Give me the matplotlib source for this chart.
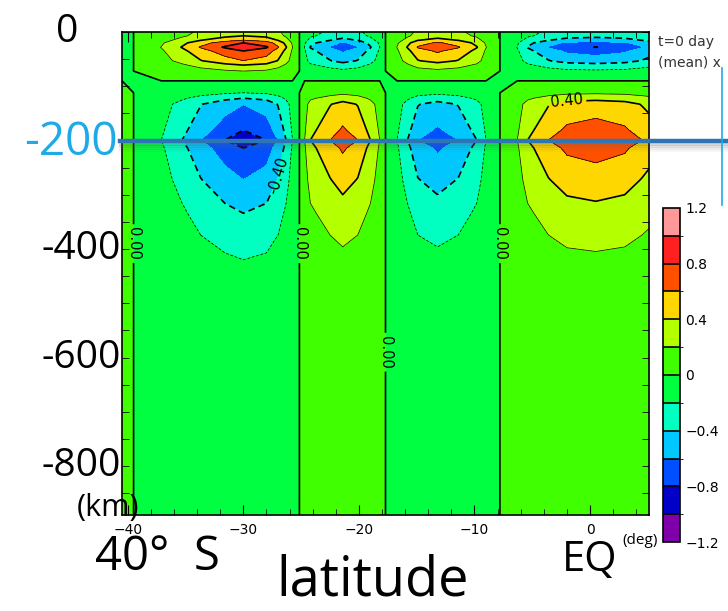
import numpy as np
import matplotlib
matplotlib.use('Agg')
import matplotlib.pyplot as plt
import matplotlib.transforms as mtransforms
from matplotlib.colors import ListedColormap, BoundaryNorm
from matplotlib.lines import Line2D
from matplotlib.ticker import MultipleLocator, FixedLocator

# latitude structure (value at 200 km depth)
lat = np.array([-40.5, -39.5, -37.1, -35.3, -33.7, -31.6, -30.0, -28.0, -27.0, -26.3,
                -25.75, -25.15, -24.7, -24.2, -22.5, -21.4, -20.1, -19.0, -18.2, -17.7,
                -16.7, -15.8, -14.9, -13.2, -11.4, -9.8, -9.0, -7.8, -6.3, -5.4,
                -3.6, -2.0, 0.5, 3.0, 4.5, 5.1])
lat_amp = np.array([0.04, 0.0, -0.2, -0.4, -0.6, -0.8, -0.92, -0.8, -0.6, -0.4,
                    -0.2, 0.0, 0.2, 0.4, 0.6, 0.72, 0.6, 0.4, 0.2, 0.0,
                    -0.2, -0.4, -0.6, -0.72, -0.6, -0.4, -0.2, 0.0, 0.2, 0.4,
                    0.6, 0.73, 0.78, 0.72, 0.6, 0.55])

# vertical structure (relative to the 200 km level)
depth = np.array([-890, -600, -420, -334, -273, -214, -199, -181, -133, -122,
                  -112, -90, -72, -61, -53, -35, -28, -20, -15, -7, 0])
depth_amp = np.array([0.01, 0.06, 0.217, 0.435, 0.65, 0.87, 1.0, 0.87, 0.65, 0.435,
                      0.217, 0.0, -0.217, -0.435, -0.65, -0.87, -1.03, -0.87, -0.65,
                      -0.435, -0.38])

field = np.outer(depth_amp, lat_amp)

levels = np.round(np.arange(-1.2, 1.21, 0.2), 1)
line_levels = [-0.8, -0.4, 0.0, 0.4, 0.8]
thin_levels = [-0.2, 0.2, 0.6]
colors = ['#7f00a8', '#0000c8', '#0050ff', '#00c8ff', '#00ffc0', '#00ff40',
          '#40ff00', '#b4ff00', '#ffd700', '#ff5000', '#ff2020', '#ff9999']
cbar_ticks = [-1.2, -0.8, -0.4, 0, 0.4, 0.8, 1.2]
cbar_labels = ['\u22121.2', '\u22120.8', '\u22120.4', '0', '0.4', '0.8', '1.2']
depth_ticks = [0, -200, -400, -600, -800]
lat_ticks = [-40, -30, -20, -10, 0]

cmap = ListedColormap(colors)
norm = BoundaryNorm(levels, cmap.N)

plt.rcParams['lines.dashed_pattern'] = [4, 2.5]
fig = plt.figure(figsize=(7.28, 6.11), dpi=100)
ax = fig.add_axes([122/728, 1-515/611, 527/728, 483/611])

cf = ax.contourf(lat, depth, field, levels=levels, cmap=cmap, norm=norm)
ax.contour(lat, depth, field, levels=thin_levels, colors='k', linewidths=0.5)
cs = ax.contour(lat, depth, field, levels=line_levels, colors='k', linewidths=1.2)
ax.clabel(cs, fmt='%.2f', fontsize=10.5, inline=True, inline_spacing=3,
          manual=[(-2.0, -125), (-27.3, -262), (-39.5, -390), (-25.15, -390),
                  (-17.7, -590), (-7.8, -390)])

ax.set_xlim(-40.5, 5.1)
ax.set_ylim(-890, 0)
ax.xaxis.set_major_locator(FixedLocator(lat_ticks))
ax.xaxis.set_minor_locator(MultipleLocator(2))
ax.tick_params(axis='x', which='both', direction='in', top=True, labelsize=10, pad=6)
ax.tick_params(axis='x', which='major', length=7)
ax.tick_params(axis='x', which='minor', length=4)
ax.set_yticks([])
ax.yaxis.set_minor_locator(MultipleLocator(50))
ax.tick_params(axis='y', which='minor', direction='in', left=True, right=True, length=5)
for s in ax.spines.values():
    s.set_linewidth(1.2)

# slide annotations
ytr = ax.get_yaxis_transform()
for d in depth_ticks:
    if d == 0:
        ax.text(-0.104, d, '0', transform=ytr, ha='center', va='center',
                fontsize=28, family='Open Sans')
    elif d == -200:
        ax.text(-0.008, d - 5, str(d), transform=ytr, ha='right', va='center',
                fontsize=33, family='Open Sans', color='#1eaae6')
    else:
        ax.text(-0.003, d, str(d), transform=ytr, ha='right', va='center',
                fontsize=28, family='Open Sans')

fig.text(108/728, 1-508/611, '(km)', ha='center', va='center', fontsize=22, family='Open Sans')
fig.text(95/728, 1-557/611, '40\u00b0  S', ha='left', va='center', fontsize=34, family='Open Sans')
fig.text(562/728, 1-560/611, 'EQ', ha='left', va='center', fontsize=30, family='Open Sans')
fig.text(622/728, 1-540/611, '(deg)', ha='left', va='center', fontsize=11, family='Open Sans')
fig.text(373/728, 1-596/611, 'latitude', ha='center', va='baseline', fontsize=39, family='Open Sans')
fig.text(658/728, 1-42/611, 't=0 day', ha='left', va='center', fontsize=10, color='#333333')
fig.text(658/728, 1-63/611, '(mean) x', ha='left', va='center', fontsize=10, color='#333333')

# highlight line at 200 km with its shadow
btr = mtransforms.blended_transform_factory(fig.transFigure, ax.transData)
x0 = 120/728
for k, a in enumerate([0.25, 0.17, 0.1, 0.05]):
    off = mtransforms.ScaledTranslation(0, -(k + 1.5) * 2 / 100, fig.dpi_scale_trans)
    fig.add_artist(Line2D([x0, 1], [-200, -200], transform=btr + off,
                          color='#606060', lw=2, alpha=a))
fig.add_artist(Line2D([x0, 1], [-200, -200], transform=btr, color='#2e75b6', lw=3.2))
fig.add_artist(Line2D([722/728, 722/728], [1-68/611, 1-205/611],
                      transform=fig.transFigure, color='#1eaae6', lw=1.2))

# colour bar
cax = fig.add_axes([663/728, 1-542/611, 17/728, 334/611])
cb = fig.colorbar(cf, cax=cax, ticks=cbar_ticks, drawedges=True)
cb.ax.set_yticklabels(cbar_labels)
cb.ax.tick_params(length=0, labelsize=10, pad=4)
cb.outline.set_linewidth(1.2)
cb.dividers.set_linewidth(1.2)

fig.savefig('out.png', dpi=100)
